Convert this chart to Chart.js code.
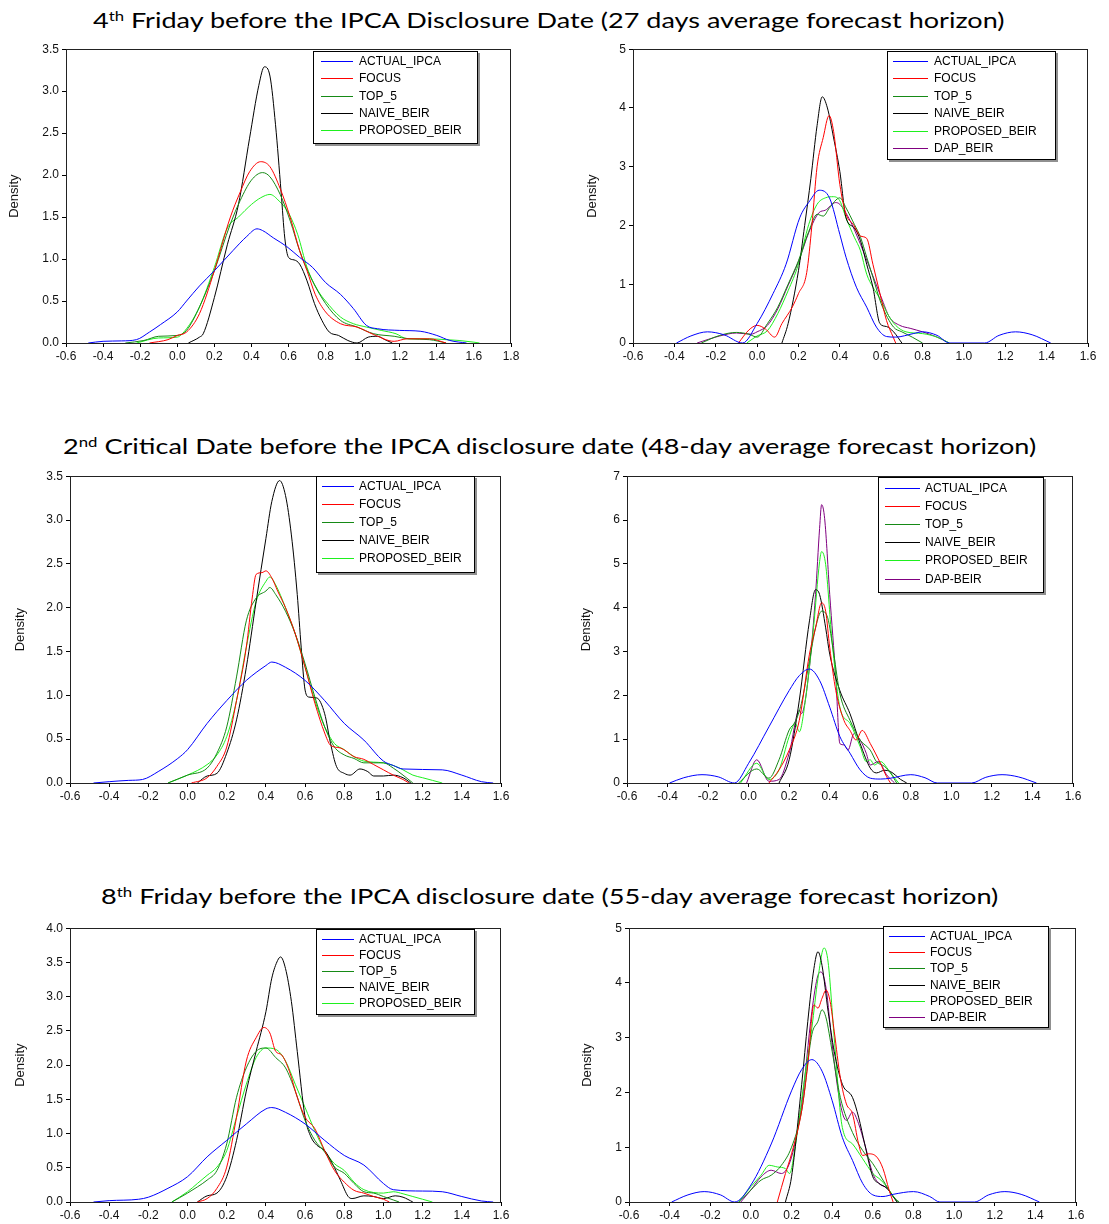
<!DOCTYPE html>
<html>
<head>
<meta charset="utf-8">
<script src="https://cdn.jsdelivr.net/npm/chart.js@4.4.0/dist/chart.umd.min.js"></script>
<style>
  body { margin: 0; background: #fff; width: 1109px; height: 1224px; position: relative; overflow: hidden; }
  canvas { position: absolute; }
  .title { position: absolute; white-space: nowrap; font-family: Lato, "Open Sans", sans-serif; font-size: 22px; line-height: 30px; color: #000; transform-origin: 0 0; }
  .title sup { font-size: 0.62em; vertical-align: 0.55em; line-height: 0; }
</style>
</head>
<body>
<div class="title" style="left:93px;top:5px" data-w="912">4<sup>th</sup> Friday before the IPCA Disclosure Date (27 days average forecast horizon)</div>
<div class="title" style="left:63px;top:431px" data-w="974">2<sup>nd</sup> Critical Date before the IPCA disclosure date (48-day average forecast horizon)</div>
<div class="title" style="left:101px;top:881px" data-w="897">8<sup>th</sup> Friday before the IPCA disclosure date (55-day average forecast horizon)</div>

<canvas id="c1"></canvas>
<canvas id="c2"></canvas>
<canvas id="c3"></canvas>
<canvas id="c4"></canvas>
<canvas id="c5"></canvas>
<canvas id="c6"></canvas>

<script>
// tick labels
const xTicksA = [-0.6, -0.4, -0.2, 0.0, 0.2, 0.4, 0.6, 0.8, 1.0, 1.2, 1.4, 1.6, 1.8];
const xTicksB = [-0.6, -0.4, -0.2, 0.0, 0.2, 0.4, 0.6, 0.8, 1.0, 1.2, 1.4, 1.6];
const yTicks35 = [0, 0.5, 1.0, 1.5, 2.0, 2.5, 3.0, 3.5];
const yTicks40 = [0, 0.5, 1.0, 1.5, 2.0, 2.5, 3.0, 3.5, 4.0];
const yTicks5 = [0, 1, 2, 3, 4, 5];
const yTicks7 = [0, 1, 2, 3, 4, 5, 6, 7];

// series names
const names5 = ['ACTUAL_IPCA', 'FOCUS', 'TOP_5', 'NAIVE_BEIR', 'PROPOSED_BEIR'];
const names2 = ['ACTUAL_IPCA', 'FOCUS', 'TOP_5', 'NAIVE_BEIR', 'PROPOSED_BEIR', 'DAP_BEIR'];
const names6 = ['ACTUAL_IPCA', 'FOCUS', 'TOP_5', 'NAIVE_BEIR', 'PROPOSED_BEIR', 'DAP-BEIR'];
const colors = ['#0000ff', '#ff0000', '#168a16', '#000000', '#1ef01e', '#800080'];

// ---- panel 1: 4th Friday, left
const actual1 = [[-0.48,0],[-0.4,0.02],[-0.3,0.025],[-0.22,0.04],[-0.15,0.13],[-0.09,0.22],[0,0.37],[0.05,0.5],[0.12,0.68],[0.2,0.86],[0.3,1.1],[0.375,1.27],[0.43,1.36],[0.46,1.34],[0.52,1.25],[0.59,1.15],[0.66,1.02],[0.73,0.9],[0.8,0.72],[0.88,0.58],[0.95,0.41],[1.02,0.21],[1.08,0.17],[1.2,0.15],[1.31,0.14],[1.4,0.09],[1.47,0.03],[1.56,0]];
const focus1 = [[-0.15,0],[-0.05,0.04],[0,0.09],[0.05,0.13],[0.12,0.35],[0.2,0.86],[0.285,1.49],[0.34,1.8],[0.39,2.04],[0.45,2.16],[0.5,2.1],[0.555,1.84],[0.61,1.49],[0.66,1.1],[0.7,0.86],[0.744,0.58],[0.8,0.37],[0.88,0.23],[0.97,0.19],[1.06,0.1],[1.17,0.02],[1.24,0.05],[1.36,0.05],[1.45,0]];
const top5_1 = [[-0.28,0],[-0.18,0.03],[-0.1,0.08],[0,0.09],[0.05,0.15],[0.12,0.43],[0.2,0.86],[0.285,1.41],[0.34,1.7],[0.4,1.94],[0.46,2.03],[0.5,1.98],[0.555,1.77],[0.61,1.45],[0.66,1.1],[0.72,0.78],[0.8,0.47],[0.88,0.27],[0.97,0.19],[1.06,0.11],[1.17,0.08],[1.25,0.05],[1.36,0.04],[1.45,0]];
const naive1 = [[0.06,0],[0.12,0.07],[0.14,0.11],[0.2,0.54],[0.27,1.17],[0.33,1.65],[0.39,2.44],[0.44,3.07],[0.47,3.29],[0.5,3.18],[0.53,2.6],[0.56,1.8],[0.58,1.25],[0.6,1.02],[0.63,0.99],[0.66,0.94],[0.7,0.74],[0.74,0.47],[0.78,0.27],[0.82,0.13],[0.87,0.09],[0.92,0.03],[0.97,0],[1.03,0.07],[1.08,0.08],[1.12,0.04],[1.16,0]];
const proposed1 = [[-0.22,0],[-0.1,0.06],[0,0.07],[0.05,0.17],[0.12,0.43],[0.2,0.9],[0.27,1.37],[0.33,1.5],[0.4,1.65],[0.45,1.73],[0.5,1.77],[0.55,1.69],[0.6,1.55],[0.65,1.29],[0.7,0.9],[0.76,0.62],[0.8,0.5],[0.88,0.31],[0.95,0.23],[1.02,0.19],[1.1,0.15],[1.18,0.11],[1.24,0.05],[1.35,0.05],[1.45,0.04],[1.52,0.03],[1.6,0.01],[1.63,0]];

// ---- panel 2: 4th Friday, right
const actual2 = [[-0.39,0],[-0.32,0.12],[-0.24,0.19],[-0.16,0.14],[-0.07,0],[0,0.33],[0.077,0.84],[0.14,1.34],[0.206,2.13],[0.255,2.42],[0.3,2.6],[0.35,2.47],[0.4,1.85],[0.43,1.46],[0.48,0.95],[0.53,0.61],[0.577,0.27],[0.626,0.11],[0.67,0.1],[0.755,0.16],[0.8,0.19],[0.87,0.13],[0.93,0],[1.1,0],[1.17,0.13],[1.25,0.19],[1.33,0.14],[1.42,0]];
const focus2 = [[-0.09,0],[-0.04,0.22],[0,0.3],[0.04,0.24],[0.085,0.1],[0.12,0.33],[0.17,0.61],[0.2,0.84],[0.24,1.2],[0.265,2.0],[0.29,3.0],[0.32,3.5],[0.348,3.87],[0.37,3.6],[0.4,2.7],[0.43,2.19],[0.465,2.02],[0.5,1.82],[0.53,1.78],[0.56,1.34],[0.594,0.84],[0.626,0.38],[0.658,0.1],[0.67,0]];
const top5_2 = [[-0.27,0],[-0.18,0.13],[-0.1,0.18],[-0.04,0.15],[0,0.1],[0.05,0.33],[0.1,0.61],[0.15,1.0],[0.2,1.4],[0.25,1.9],[0.29,2.19],[0.32,2.16],[0.35,2.3],[0.4,2.47],[0.43,2.3],[0.47,2.02],[0.5,1.8],[0.53,1.46],[0.56,1.12],[0.6,0.67],[0.66,0.27],[0.7,0.19],[0.75,0.1],[0.8,0]];
const naive2 = [[0.12,0],[0.15,0.33],[0.2,1.23],[0.23,2.0],[0.26,2.8],[0.29,3.7],[0.315,4.19],[0.34,4.0],[0.37,3.49],[0.4,2.92],[0.43,2.13],[0.47,1.96],[0.5,1.74],[0.53,1.34],[0.56,0.95],[0.594,0.33],[0.626,0.28],[0.66,0.19],[0.7,0]];
const proposed2 = [[-0.05,0],[0,0.12],[0.05,0.21],[0.1,0.5],[0.15,0.89],[0.2,1.34],[0.25,2.02],[0.29,2.36],[0.33,2.47],[0.37,2.49],[0.4,2.42],[0.43,2.13],[0.47,1.8],[0.5,1.57],[0.53,1.17],[0.56,0.95],[0.6,0.72],[0.63,0.5],[0.67,0.3],[0.72,0.19],[0.8,0.16],[0.87,0.1],[0.93,0]];
const dap2 = [[-0.29,0],[-0.18,0.12],[-0.1,0.17],[-0.03,0.15],[0,0.19],[0.05,0.3],[0.1,0.58],[0.15,0.98],[0.2,1.38],[0.25,1.88],[0.3,2.22],[0.33,2.26],[0.38,2.39],[0.4,2.36],[0.45,2.08],[0.5,1.68],[0.55,1.23],[0.6,0.78],[0.64,0.44],[0.69,0.3],[0.74,0.25],[0.8,0.19],[0.87,0.1],[0.93,0]];

// ---- panel 3: 2nd Critical Date, left
const actual3 = [[-0.48,0],[-0.4,0.015],[-0.3,0.03],[-0.23,0.04],[-0.15,0.13],[-0.05,0.28],[0,0.38],[0.1,0.68],[0.2,0.94],[0.3,1.17],[0.4,1.34],[0.43,1.38],[0.5,1.32],[0.6,1.17],[0.7,0.94],[0.8,0.68],[0.9,0.49],[1.0,0.25],[1.05,0.2],[1.1,0.16],[1.3,0.15],[1.4,0.09],[1.5,0.015],[1.56,0]];
const focus3 = [[0.02,0],[0.1,0.06],[0.15,0.19],[0.2,0.41],[0.25,0.94],[0.3,1.55],[0.33,2.11],[0.35,2.38],[0.38,2.4],[0.4,2.42],[0.43,2.34],[0.46,2.19],[0.5,2.0],[0.55,1.7],[0.6,1.32],[0.65,0.91],[0.7,0.57],[0.73,0.43],[0.78,0.4],[0.85,0.3],[0.9,0.27],[0.95,0.21],[1.0,0.15],[1.05,0.09],[1.1,0.04],[1.13,0]];
const top5_3 = [[-0.1,0],[0,0.09],[0.1,0.17],[0.15,0.34],[0.2,0.64],[0.25,1.21],[0.3,1.85],[0.35,2.11],[0.4,2.19],[0.42,2.23],[0.45,2.15],[0.5,1.96],[0.55,1.7],[0.6,1.36],[0.65,0.98],[0.7,0.64],[0.75,0.41],[0.8,0.32],[0.85,0.28],[0.9,0.23],[1.0,0.23],[1.05,0.17],[1.1,0.09],[1.15,0]];
const naive3 = [[0.05,0],[0.1,0.08],[0.15,0.11],[0.2,0.34],[0.25,0.72],[0.3,1.32],[0.35,2.07],[0.4,2.79],[0.43,3.21],[0.47,3.45],[0.5,3.28],[0.53,2.83],[0.56,2.15],[0.58,1.55],[0.6,1.06],[0.62,0.98],[0.66,0.97],[0.7,0.79],[0.73,0.45],[0.76,0.19],[0.8,0.11],[0.83,0.09],[0.88,0.16],[0.92,0.13],[0.95,0.08],[1.0,0.08],[1.05,0.09],[1.1,0.06],[1.14,0]];
const proposed3 = [[-0.1,0],[0,0.09],[0.1,0.21],[0.15,0.32],[0.2,0.53],[0.25,0.94],[0.3,1.55],[0.35,2.07],[0.4,2.3],[0.42,2.35],[0.45,2.26],[0.5,2.0],[0.55,1.7],[0.6,1.32],[0.65,0.94],[0.7,0.64],[0.75,0.45],[0.8,0.38],[0.85,0.3],[0.9,0.25],[1.0,0.23],[1.05,0.2],[1.1,0.15],[1.15,0.09],[1.2,0.06],[1.25,0.03],[1.3,0]];

// ---- panel 4: 2nd Critical Date, right
const actual4 = [[-0.39,0],[-0.32,0.12],[-0.23,0.19],[-0.15,0.14],[-0.07,0],[0,0.45],[0.1,1.28],[0.2,2.11],[0.25,2.45],[0.3,2.6],[0.35,2.34],[0.4,1.73],[0.45,1.06],[0.5,0.68],[0.55,0.3],[0.6,0.11],[0.65,0.09],[0.7,0.11],[0.8,0.19],[0.87,0.12],[0.93,0],[1.1,0],[1.17,0.13],[1.25,0.19],[1.33,0.14],[1.42,0]];
const focus4 = [[0.1,0],[0.15,0.3],[0.2,0.75],[0.25,1.43],[0.3,2.94],[0.33,3.54],[0.36,4.11],[0.38,3.92],[0.4,3.09],[0.43,2.11],[0.47,1.43],[0.5,1.2],[0.53,0.98],[0.56,1.2],[0.6,0.9],[0.65,0.45],[0.68,0.15],[0.7,0]];
const top5_4 = [[-0.05,0],[0.04,0.32],[0.1,0.11],[0.15,0.53],[0.2,1.21],[0.23,1.4],[0.26,1.81],[0.3,2.79],[0.33,3.54],[0.36,3.92],[0.39,3.77],[0.42,2.94],[0.45,2.04],[0.5,1.43],[0.55,0.98],[0.6,0.75],[0.63,0.49],[0.67,0.38],[0.7,0.23],[0.73,0]];
const naive4 = [[0.15,0],[0.2,0.53],[0.25,1.89],[0.3,3.7],[0.33,4.41],[0.35,4.3],[0.38,3.54],[0.4,2.94],[0.45,2.11],[0.5,1.58],[0.55,0.9],[0.6,0.34],[0.63,0.23],[0.67,0.29],[0.7,0.26],[0.75,0.08],[0.78,0]];
const proposed4 = [[-0.04,0],[0.04,0.45],[0.1,0.08],[0.15,0.3],[0.2,1.06],[0.23,1.36],[0.25,1.17],[0.28,1.89],[0.32,3.54],[0.35,5.05],[0.36,5.28],[0.38,4.98],[0.41,3.32],[0.45,1.73],[0.5,1.36],[0.55,0.83],[0.58,0.49],[0.6,0.53],[0.62,0.41],[0.65,0.49],[0.7,0.23],[0.74,0]];
const dap4 = [[-0.01,0],[0.04,0.53],[0.1,0.04],[0.15,0.08],[0.2,0.68],[0.25,1.66],[0.26,1.58],[0.3,2.64],[0.33,4.3],[0.35,5.81],[0.36,6.35],[0.375,6.03],[0.4,4.3],[0.43,2.41],[0.45,0.9],[0.47,0.87],[0.49,0.75],[0.52,1.13],[0.55,0.98],[0.58,0.68],[0.6,0.41],[0.64,0.49],[0.68,0.19],[0.72,0]];

// ---- panel 5: 8th Friday, left
const actual5 = [[-0.48,0],[-0.4,0.02],[-0.25,0.04],[-0.2,0.07],[-0.1,0.2],[0,0.37],[0.1,0.66],[0.2,0.9],[0.3,1.14],[0.4,1.36],[0.43,1.38],[0.5,1.31],[0.6,1.14],[0.7,0.9],[0.8,0.68],[0.9,0.54],[1.0,0.27],[1.05,0.18],[1.2,0.16],[1.3,0.15],[1.4,0.08],[1.5,0.015],[1.56,0]];
const focus5 = [[0.05,0],[0.1,0.05],[0.15,0.2],[0.2,0.51],[0.25,1.24],[0.3,2.06],[0.35,2.4],[0.39,2.55],[0.42,2.47],[0.45,2.2],[0.48,2.15],[0.52,1.91],[0.56,1.53],[0.6,1.24],[0.65,1.07],[0.7,0.75],[0.75,0.46],[0.8,0.29],[0.85,0.17],[0.9,0.13],[0.95,0.08],[1.0,0.04],[1.03,0]];
const top5_5 = [[-0.08,0],[0,0.13],[0.05,0.22],[0.1,0.32],[0.15,0.46],[0.2,0.85],[0.25,1.53],[0.3,1.96],[0.35,2.2],[0.4,2.25],[0.45,2.11],[0.5,1.96],[0.55,1.62],[0.6,1.19],[0.65,0.9],[0.7,0.73],[0.75,0.51],[0.8,0.42],[0.85,0.27],[0.9,0.15],[0.95,0.13],[1.0,0.08],[1.05,0.03],[1.08,0]];
const naive5 = [[0.05,0],[0.1,0.09],[0.15,0.13],[0.2,0.37],[0.25,0.9],[0.3,1.62],[0.35,2.2],[0.4,2.78],[0.43,3.27],[0.46,3.53],[0.475,3.58],[0.5,3.41],[0.53,2.93],[0.56,2.2],[0.6,1.24],[0.63,0.95],[0.66,0.83],[0.7,0.75],[0.74,0.56],[0.78,0.32],[0.82,0.08],[0.84,0.05],[0.9,0.09],[0.95,0.08],[1.0,0.05],[1.06,0.09],[1.1,0.07],[1.15,0]];
const proposed5 = [[-0.08,0],[0,0.15],[0.05,0.27],[0.1,0.39],[0.15,0.51],[0.2,0.75],[0.25,1.24],[0.3,1.72],[0.35,2.11],[0.4,2.25],[0.45,2.23],[0.5,2.06],[0.55,1.72],[0.6,1.38],[0.65,1.04],[0.7,0.75],[0.75,0.56],[0.8,0.46],[0.85,0.29],[0.9,0.18],[1.0,0.13],[1.05,0.15],[1.1,0.12],[1.15,0.08],[1.2,0.04],[1.25,0]];

// ---- panel 6: 8th Friday, right
const actual6 = [[-0.39,0],[-0.31,0.13],[-0.23,0.19],[-0.15,0.13],[-0.08,0],[0,0.31],[0.1,1.06],[0.2,2.03],[0.25,2.42],[0.3,2.6],[0.35,2.39],[0.4,1.85],[0.45,1.18],[0.5,0.76],[0.55,0.34],[0.6,0.13],[0.65,0.1],[0.7,0.14],[0.8,0.19],[0.88,0.1],[0.93,0],[1.1,0],[1.17,0.13],[1.25,0.19],[1.33,0.14],[1.42,0]];
const focus6 = [[0.13,0],[0.17,0.52],[0.2,0.88],[0.25,1.67],[0.28,2.51],[0.31,3.6],[0.33,3.54],[0.35,3.72],[0.37,3.87],[0.39,3.66],[0.41,3.12],[0.44,2.27],[0.47,1.79],[0.5,1.61],[0.53,1.06],[0.55,0.85],[0.58,0.88],[0.62,0.82],[0.65,0.61],[0.68,0.22],[0.7,0]];
const top5_6 = [[-0.06,0],[0,0.22],[0.05,0.4],[0.1,0.49],[0.15,0.67],[0.2,1.0],[0.25,1.67],[0.3,3.06],[0.33,3.3],[0.35,3.51],[0.37,3.36],[0.4,2.75],[0.44,1.91],[0.5,1.27],[0.55,0.94],[0.6,0.7],[0.65,0.4],[0.7,0.1],[0.73,0]];
const naive6 = [[0.17,0],[0.2,0.46],[0.25,2.15],[0.28,3.3],[0.31,4.26],[0.33,4.57],[0.35,4.32],[0.38,3.48],[0.41,2.75],[0.45,2.15],[0.5,1.91],[0.53,1.55],[0.56,1.06],[0.6,0.46],[0.63,0.34],[0.67,0.25],[0.7,0.1],[0.72,0]];
const proposed6 = [[-0.06,0],[0,0.28],[0.05,0.49],[0.09,0.67],[0.13,0.64],[0.17,0.61],[0.19,0.52],[0.22,1.06],[0.26,2.15],[0.3,3.18],[0.33,4.08],[0.36,4.64],[0.38,4.38],[0.41,3.0],[0.45,1.36],[0.5,1.06],[0.55,0.79],[0.6,0.52],[0.64,0.4],[0.68,0.22],[0.72,0]];
const dap6 = [[-0.05,0],[0,0.22],[0.05,0.46],[0.1,0.58],[0.15,0.52],[0.2,0.82],[0.25,1.79],[0.3,3.48],[0.33,4.14],[0.345,4.2],[0.37,3.9],[0.4,2.87],[0.44,1.79],[0.47,1.49],[0.5,1.64],[0.53,1.43],[0.56,1.06],[0.6,0.52],[0.63,0.34],[0.67,0.25],[0.7,0.1],[0.72,0]];

// panel layout (page pixels): plot rect, y-label centre, legend box
const panels = [
  { id: 'c1', names: names5, series: [actual1, focus1, top5_1, naive1, proposed1], xt: xTicksA, yt: yTicks35, dec: 1,
    l: 66, t: 47, r: 511, b: 343, dx: 15,
    leg: { x: 313, y: 51, w: 165, h: 93, row0: 61, gap: 17.3, lx0: 321, lx1: 353, tx: 359 } },
  { id: 'c2', names: names2, series: [actual2, focus2, top5_2, naive2, proposed2, dap2], xt: xTicksB, yt: yTicks5, dec: 0,
    l: 633, t: 47, r: 1088, b: 343, dx: 593,
    leg: { x: 887, y: 51, w: 169, h: 109, row0: 61, gap: 17.4, lx0: 893, lx1: 928, tx: 934 } },
  { id: 'c3', names: names5, series: [actual3, focus3, top5_3, naive3, proposed3], xt: xTicksB, yt: yTicks35, dec: 1,
    l: 70, t: 474, r: 501, b: 783, dx: 21,
    leg: { x: 316, y: 476, w: 159, h: 97, row0: 486, gap: 18, lx0: 322, lx1: 354, tx: 359 } },
  { id: 'c4', names: names6, series: [actual4, focus4, top5_4, naive4, proposed4, dap4], xt: xTicksB, yt: yTicks7, dec: 0,
    l: 627, t: 474, r: 1073, b: 783, dx: 587,
    leg: { x: 878, y: 477, w: 166, h: 116, row0: 488, gap: 18.1, lx0: 885, lx1: 920, tx: 925 } },
  { id: 'c5', names: names5, series: [actual5, focus5, top5_5, naive5, proposed5], xt: xTicksB, yt: yTicks40, dec: 1,
    l: 70, t: 926, r: 501, b: 1202, dx: 21,
    leg: { x: 316, y: 929, w: 159, h: 86, row0: 939, gap: 15.9, lx0: 322, lx1: 354, tx: 359 } },
  { id: 'c6', names: names6, series: [actual6, focus6, top5_6, naive6, proposed6, dap6], xt: xTicksB, yt: yTicks5, dec: 0,
    l: 629, t: 926, r: 1076, b: 1202, dx: 588,
    leg: { x: 883, y: 926, w: 166, h: 102, row0: 936, gap: 16.2, lx0: 889, lx1: 925, tx: 930 } }
];

const PAD_TOP = 8, PAD_RIGHT = 24, X_H = 26;
const tickFont = { family: '"Liberation Sans", Arial, sans-serif', size: 12 };

function fmt(v, dec) {
  const r = Math.round(v * 10) / 10;
  return (r === 0 ? 0 : r).toFixed(dec);
}

// frame round the plot and the boxed legend
function framePlugin(p, cx, cy) {
  return {
    id: 'frameLegend',
    afterDraw(chart) {
      const ctx = chart.ctx, a = chart.chartArea;
      ctx.save();
      ctx.strokeStyle = '#222';
      ctx.lineWidth = 1;
      ctx.strokeRect(Math.round(a.left) + 0.5, Math.round(a.top) + 0.5, Math.round(a.right - a.left) - 1, Math.round(a.bottom - a.top));

      const L = p.leg;
      const x = L.x - cx, y = L.y - cy;
      ctx.fillStyle = '#909090';
      ctx.fillRect(x + 2, y + 2, L.w, L.h);
      ctx.fillStyle = '#fff';
      ctx.fillRect(x, y, L.w, L.h);
      ctx.strokeStyle = '#000';
      ctx.strokeRect(x + 0.5, y + 0.5, L.w - 1, L.h - 1);
      ctx.font = '12px "Liberation Sans", Arial, sans-serif';
      ctx.textBaseline = 'middle';
      chart.data.datasets.forEach((ds, i) => {
        const ry = Math.round(L.row0 + i * L.gap - cy) + 0.5;
        ctx.strokeStyle = ds.borderColor;
        ctx.beginPath();
        ctx.moveTo(L.lx0 - cx, ry);
        ctx.lineTo(L.lx1 - cx, ry);
        ctx.stroke();
        ctx.fillStyle = '#000';
        ctx.fillText(ds.label, L.tx - cx, ry + 0.5);
      });
      ctx.restore();
    }
  };
}

panels.forEach(p => {
  const cx = Math.round(p.dx - 8);
  const cy = p.t - PAD_TOP;
  const yw = p.l - cx;
  const w = p.r - cx + PAD_RIGHT;
  const h = p.b - cy + X_H;
  const cv = document.getElementById(p.id);
  cv.width = w; cv.height = h;
  cv.style.left = cx + 'px'; cv.style.top = cy + 'px';
  cv.style.width = w + 'px'; cv.style.height = h + 'px';

  const datasets = p.series.map((s, i) => ({
    label: p.names[i],
    data: s.map(pt => ({ x: pt[0], y: pt[1] })),
    borderColor: colors[i],
    borderWidth: 1,
    pointRadius: 0,
    fill: false,
    cubicInterpolationMode: 'monotone'
  }));

  new Chart(cv.getContext('2d'), {
    type: 'line',
    data: { datasets },
    options: {
      responsive: false,
      animation: false,
      devicePixelRatio: 1,
      layout: { padding: { top: PAD_TOP, right: PAD_RIGHT, left: 0, bottom: 0 } },
      plugins: { legend: { display: false }, tooltip: { enabled: false } },
      scales: {
        x: {
          type: 'linear',
          min: p.xt[0], max: p.xt[p.xt.length - 1],
          afterBuildTicks: s => { s.ticks = p.xt.map(v => ({ value: v })); },
          afterFit: s => { s.height = X_H; },
          ticks: { font: tickFont, color: '#111', padding: 2, maxRotation: 0, autoSkip: false, callback: v => fmt(v, 1) },
          grid: { drawOnChartArea: false, tickLength: 4, color: '#000' },
          border: { color: '#000' }
        },
        y: {
          type: 'linear',
          min: 0, max: p.yt[p.yt.length - 1],
          afterBuildTicks: s => { s.ticks = p.yt.map(v => ({ value: v })); },
          afterFit: s => { s.width = yw; },
          ticks: { font: tickFont, color: '#111', padding: 3, autoSkip: false, callback: v => fmt(v, p.dec) },
          grid: { drawOnChartArea: false, tickLength: 4, color: '#000' },
          border: { color: '#000' },
          title: { display: true, text: 'Density', color: '#111', padding: 0,
                   font: { family: '"Liberation Sans", Arial, sans-serif', size: 13 } }
        }
      }
    },
    plugins: [framePlugin(p, cx, cy)]
  });
});

// squeeze each heading to the width it has in the figure
document.querySelectorAll('.title').forEach(el => {
  const target = +el.dataset.w;
  const k = target / el.offsetWidth;
  el.style.transform = 'scaleX(' + k.toFixed(3) + ')';
});
</script>
</body>
</html>
